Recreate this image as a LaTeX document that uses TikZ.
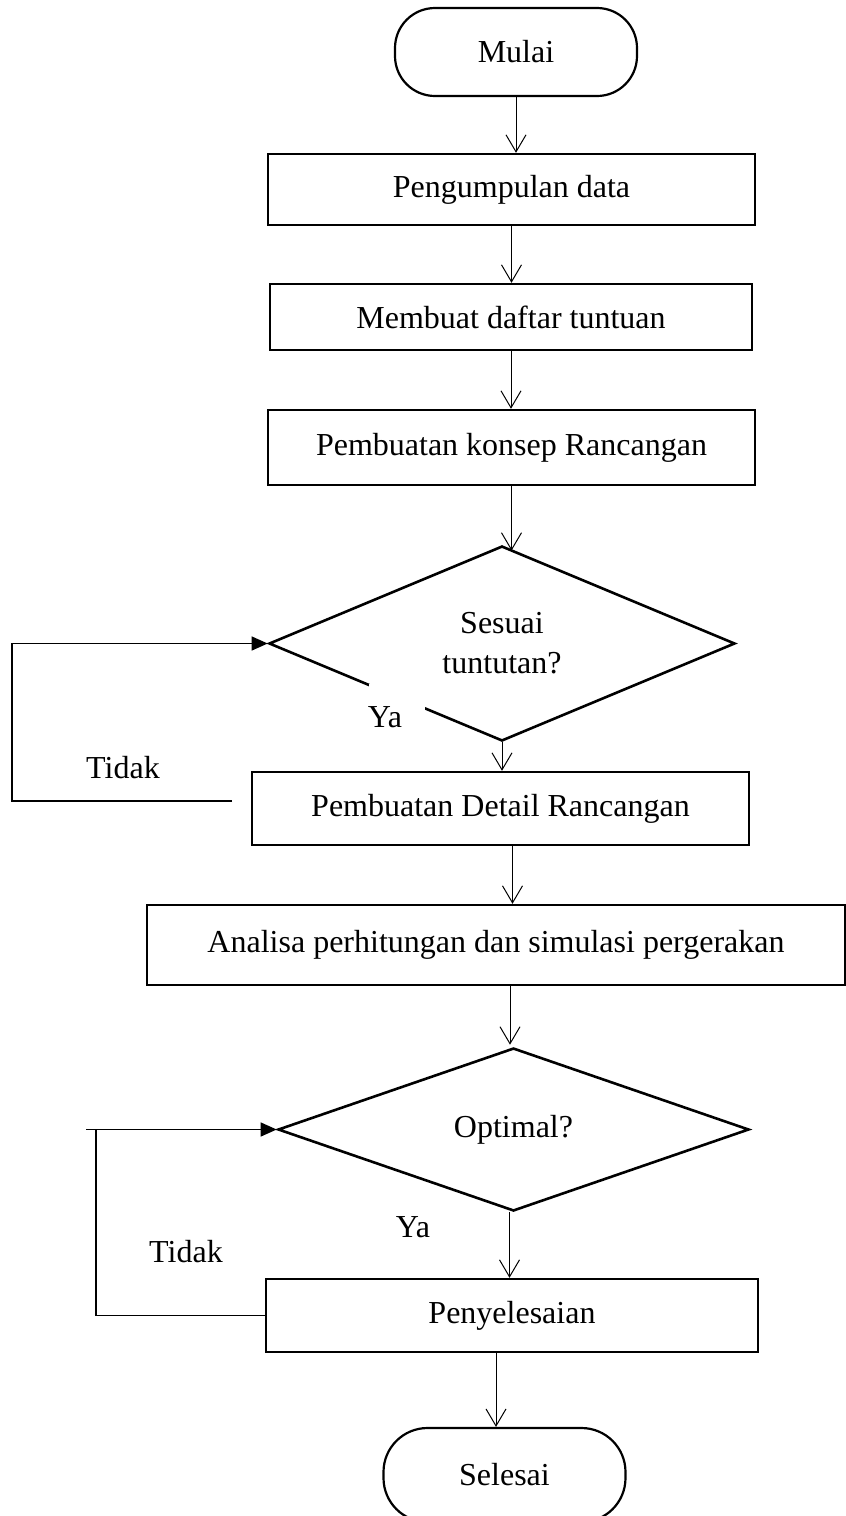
\documentclass[tikz,border=0pt]{standalone}
\usepackage{fontspec}
\setmainfont{Liberation Serif}
\usetikzlibrary{positioning,shapes,arrows.meta}

\tikzset{
  kotak/.style={draw,line width=1.2pt,rectangle,inner sep=0pt},
  ujung/.style={draw,line width=1.1pt,rounded corners=20pt,inner sep=0pt,minimum width=121pt,minimum height=44pt},
  keputusan/.style={draw,line width=1.3pt,diamond,inner sep=0pt,align=center},
  panah/.style={line width=0.5pt,-{Straight Barb[length=8.5pt,width=10pt]}},
  balik/.style={line width=0.6pt,-{Triangle[length=8pt,width=7pt]}},
  garis/.style={line width=0.6pt},
}

\begin{document}
\begin{tikzpicture}[x=1pt,y=1pt,every node/.style={font=\fontsize{16}{20}\selectfont}]
  \useasboundingbox (0,0) rectangle (423,-758);

  \node[ujung] (mulai) at (258,-26) {Mulai};
  \node[kotak,minimum width=243.5pt,minimum height=35.5pt] (kumpul) at (255.75,-94.75) {Pengumpulan data};
  \node[kotak,minimum width=241pt,minimum height=33pt] (tuntuan) at (255.5,-158.5) {Membuat daftar tuntuan};
  \node[kotak,minimum width=243.5pt,minimum height=37.5pt] (konsep) at (255.75,-223.75) {Pembuatan konsep Rancangan};
  \node[keputusan,minimum width=233pt,minimum height=97.5pt] (sesuai) at (251,-321.75) {Sesuai\\tuntutan?};
  \node[kotak,minimum width=248.5pt,minimum height=36.5pt] (detail) at (250.25,-404.25) {Pembuatan Detail Rancangan};
  \node[kotak,minimum width=349pt,minimum height=40pt] (analisa) at (248,-472.5) {Analisa perhitungan dan simulasi pergerakan};
  \node[keputusan,minimum width=235.5pt,minimum height=81.5pt] (optimal) at (256.75,-564.75) {Optimal?};
  \node[kotak,minimum width=246pt,minimum height=36.5pt] (selesaikan) at (256,-657.75) {Penyelesaian};
  \node[ujung,rounded corners=22pt,minimum height=47pt] (selesai) at (252.25,-737.5) {Selesai};

  \fill[white] (184.5,-342) rectangle (212.5,-370);
  \node (ya1) at (192.5,-358.5) {Ya};
  \node (tidak1) at (61.5,-384) {Tidak};
  \node (ya2) at (206.5,-613.5) {Ya};
  \node (tidak2) at (93,-626) {Tidak};

  \coordinate (awal1) at (116,-400.5);
  \coordinate (sudut1) at (6,-400.5);
  \coordinate (sudut2) at (48,-564.75);

  \draw[panah] (mulai.south) -- (mulai.south |- kumpul.north);
  \draw[panah] (kumpul.south) -- (kumpul.south |- tuntuan.north);
  \draw[panah] (tuntuan.south) -- (tuntuan.south |- konsep.north);
  \draw[panah] (konsep.south) -- ([yshift=-3pt]konsep.south |- sesuai.north);
  \draw[panah] (sesuai.south) -- (sesuai.south |- detail.north);
  \draw[panah] ([xshift=6pt]detail.south) -- ([xshift=6pt]detail.south |- analisa.north);
  \draw[panah] ([xshift=7pt]analisa.south) -- ([xshift=7pt,yshift=1pt]analisa.south |- optimal.north);
  \draw[panah] ([xshift=-2pt]optimal.south) -- ([xshift=-2pt]optimal.south |- selesaikan.north);
  \draw[panah] ([xshift=-8pt]selesaikan.south) -- ([xshift=-8pt]selesaikan.south |- selesai.north);

  \draw[balik] (awal1) -- (sudut1) |- (sesuai.west);
  \draw[garis] (selesaikan.west) -| (sudut2);
  \draw[balik] ([xshift=-5pt]sudut2) -- (optimal.west);
\end{tikzpicture}
\end{document}
